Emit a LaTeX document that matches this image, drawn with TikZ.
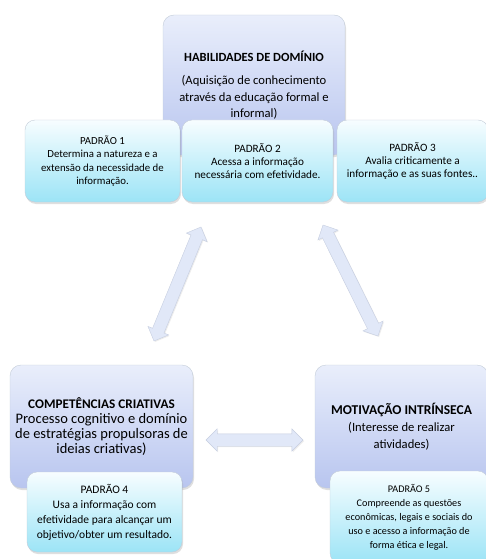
\documentclass[tikz,border=0pt]{standalone}
\usepackage{fontspec}
\setmainfont{Carlito}
\usetikzlibrary{shapes.arrows,shadows,calc}

\definecolor{lavtop}{HTML}{E9EEFB}
\definecolor{lavbot}{HTML}{B8C5EF}
\definecolor{cyantop}{HTML}{F7FDFF}
\definecolor{cyanbot}{HTML}{9CE4F6}
\definecolor{boxline}{HTML}{C3CCD8}
\definecolor{arrowfill}{HTML}{E1E8F8}
\definecolor{arrowline}{HTML}{C6CEE0}

\tikzset{
  bigbox/.style={draw=boxline, rounded corners=11pt, top color=lavtop, bottom color=lavbot,
    align=center, inner sep=2pt, drop shadow={opacity=0.25, shadow xshift=1pt, shadow yshift=-2pt}},
  padbox/.style={draw=boxline, rounded corners=10pt, top color=cyantop, bottom color=cyanbot,
    align=center, inner sep=2pt, drop shadow={opacity=0.25, shadow xshift=1pt, shadow yshift=-2pt}},
  linkarrow/.style={double arrow, draw=arrowline, fill=arrowfill, inner sep=6pt,
    double arrow head extend=5pt, drop shadow={opacity=0.15, shadow xshift=1pt, shadow yshift=-1pt}}
}

\begin{document}
\begin{tikzpicture}[x=1pt, y=-1pt]
  \useasboundingbox (0,0) rectangle (486,559);

  % top group
  \node[bigbox, minimum width=182pt, minimum height=140pt,
        font=\fontsize{12.6}{16.5}\selectfont] (hab) at (254,85)
    {{\bfseries\fontsize{12.5}{14}\selectfont HABILIDADES DE DOMÍNIO}\\[7pt]
     (Aquisição de conhecimento\\ através da educação formal e\\ informal)};
  \node[padbox, minimum width=155pt, minimum height=82pt,
        font=\fontsize{10.8}{13.5}\selectfont] (pad1) at (102.5,161)
    {PADRÃO 1\\ Determina a natureza e a\\ extensão da necessidade de\\ informação.};
  \node[padbox, minimum width=151pt, minimum height=82pt,
        font=\fontsize{11.2}{13}\selectfont] (pad2) at (257.5,161)
    {PADRÃO 2\\ Acessa a informação\\ necessária com efetividade.};
  \node[padbox, minimum width=151pt, minimum height=82pt,
        font=\fontsize{11.2}{13}\selectfont] (pad3) at (412.5,161)
    {PADRÃO 3\\ Avalia criticamente a\\ informação e as suas fontes..};

  % bottom left group
  \node[bigbox, minimum width=183pt, minimum height=123pt,
        font=\fontsize{14.5}{15.2}\selectfont] (comp) at (101.5,426.5)
    {{\bfseries\fontsize{13.2}{15}\selectfont COMPETÊNCIAS CRIATIVAS}\\
     Processo cognitivo e domínio\\ de estratégias propulsoras de\\ ideias criativas)};
  \node[padbox, minimum width=155pt, minimum height=80pt,
        font=\fontsize{11.5}{15}\selectfont] (pad4) at (104.5,512)
    {PADRÃO 4\\ Usa a informação com\\ efetividade para alcançar um\\ objetivo/obter um resultado.};

  % bottom right group
  \node[bigbox, minimum width=173pt, minimum height=123pt,
        font=\fontsize{12.6}{17}\selectfont] (motiv) at (401.5,426.5)
    {{\bfseries\fontsize{13.5}{15}\selectfont MOTIVAÇÃO INTRÍNSECA}\\
     (Interesse de realizar\\ atividades)};
  \node[padbox, minimum width=158pt, minimum height=92pt,
        font=\fontsize{10.2}{14}\selectfont] (pad5) at (409,517)
    {PADRÃO 5\\ Compreende as questões\\ econômicas, legais e sociais do\\
     uso e acesso a informação de\\ forma ética e legal.};

  % arrows between the groups
  \coordinate (leftTop) at (201,227);
  \coordinate (leftBot) at (154,341);
  \coordinate (rightTop) at (323,225);
  \coordinate (rightBot) at (378,336);
  \coordinate (midLeft) at (206,440);
  \coordinate (midRight) at (303,440);
  \foreach \a/\b/\arrname in {leftBot/leftTop/arrowleft, rightTop/rightBot/arrowright, midLeft/midRight/arrowmid}
    \path let \p1=($(\b)-(\a)$), \n1={atan2(\y1,\x1)}, \n2={veclen(\x1,\y1)} in
      node[linkarrow, minimum height=\n2, rotate=\n1] (\arrname) at ($(\a)!0.5!(\b)$) {};
\end{tikzpicture}
\end{document}
